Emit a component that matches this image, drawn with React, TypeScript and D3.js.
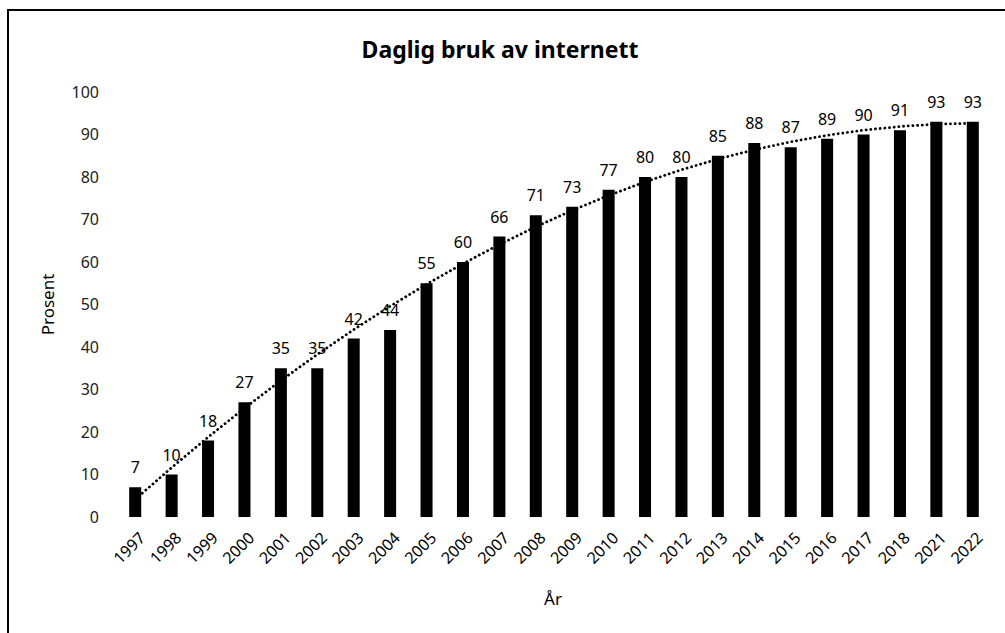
import React from "react";
import * as d3 from "d3";

const years = ["1997","1998","1999","2000","2001","2002","2003","2004","2005","2006","2007","2008","2009","2010","2011","2012","2013","2014","2015","2016","2017","2018","2021","2022"];
const values = [7,10,18,27,35,35,42,44,55,60,66,71,73,77,80,80,85,88,87,89,90,91,93,93];
const yTicks = [0,10,20,30,40,50,60,70,80,90,100];

// least squares polynomial fit (order 2) over category index, like a spreadsheet trendline
const polyFit = (ys: number[], order: number) => {
  const n = order + 1;
  const A: number[][] = Array.from({ length: n }, () => new Array(n + 1).fill(0));
  ys.forEach((y, i) => {
    const x = i + 1;
    for (let r = 0; r < n; r++) {
      for (let c = 0; c < n; c++) A[r][c] += Math.pow(x, r + c);
      A[r][n] += y * Math.pow(x, r);
    }
  });
  for (let p = 0; p < n; p++) {
    let best = p;
    for (let r = p + 1; r < n; r++) if (Math.abs(A[r][p]) > Math.abs(A[best][p])) best = r;
    [A[p], A[best]] = [A[best], A[p]];
    for (let r = 0; r < n; r++) {
      if (r === p) continue;
      const f = A[r][p] / A[p][p];
      for (let c = p; c <= n; c++) A[r][c] -= f * A[p][c];
    }
  }
  const coef = A.map((row, i) => row[n] / row[i]);
  return (x: number) => coef.reduce((s, c, i) => s + c * Math.pow(x, i), 0);
};

const App = () => {
  const width = 1005;
  const height = 633;
  const left = 117;
  const right = 991;
  const top = 92;
  const bottom = 517;
  const font = "'Noto Sans', sans-serif";

  const x = d3.scaleBand().domain(years).range([left, right]).paddingInner(0.67).paddingOuter(0.335);
  const y = d3.scaleLinear().domain([0, 100]).range([bottom, top]);

  const trend = polyFit(values, 2);
  const line = d3
    .line<number>()
    .x((d, i) => (x(years[i]) as number) + x.bandwidth() / 2)
    .y((d, i) => y(trend(i + 1)));

  return (
    <svg width={width} height={height} style={{ position: "absolute", left: 0, top: 0 }} fontFamily={font}>
      <rect x={0} y={0} width={width} height={height} fill="#fff" />
      <rect x={8} y={10} width={width + 20} height={height + 20} fill="none" stroke="#000" strokeWidth={2} />
      <text x={500} y={58} textAnchor="middle" fontSize={23} fontWeight="bold">
        Daglig bruk av internett
      </text>
      <g fontSize={16} textAnchor="end">
        {yTicks.map(t => (
          <text key={t} x={99} y={y(t)} dy="0.35em" fill="#222">
            {t}
          </text>
        ))}
      </g>
      <text transform={`translate(54,${(top + bottom) / 2}) rotate(-90)`} textAnchor="middle" fontSize={17}>
        Prosent
      </text>
      {values.map((v, i) => (
        <rect key={years[i]} x={x(years[i])} y={y(v)} width={x.bandwidth()} height={bottom - y(v)} fill="#000" />
      ))}
      <path d={line(values) || ""} fill="none" stroke="#000" strokeWidth={2.8} strokeDasharray="0.1 4.6" strokeLinecap="round" />
      <g fontSize={16} textAnchor="middle">
        {values.map((v, i) => (
          <text key={years[i]} x={(x(years[i]) as number) + x.bandwidth() / 2} y={y(v) - 14}>
            {v}
          </text>
        ))}
      </g>
      <g fontSize={16} textAnchor="end">
        {years.map(yr => {
          const cx = (x(yr) as number) + x.bandwidth() / 2 + 7;
          return (
            <text key={yr} transform={`translate(${cx},${bottom + 18}) rotate(-45)`} dy="0.35em">
              {yr}
            </text>
          );
        })}
      </g>
      <text x={553} y={605} textAnchor="middle" fontSize={17}>
        År
      </text>
    </svg>
  );
};

export default App;
